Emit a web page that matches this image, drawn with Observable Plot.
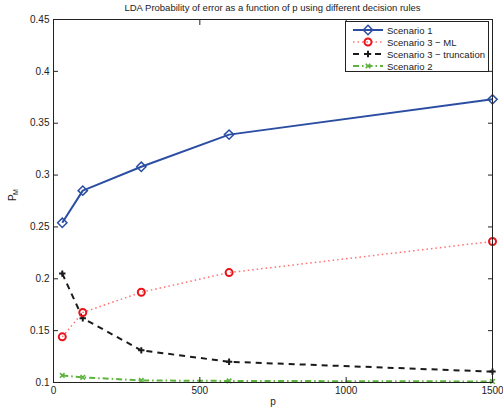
<!DOCTYPE html>
<html><head><meta charset="utf-8">
<script src="https://cdn.jsdelivr.net/npm/d3@7"></script>
<script src="https://cdn.jsdelivr.net/npm/@observablehq/plot@0.6"></script>
<style>
body{margin:0;background:#fff;font-family:"Liberation Sans",Arial,sans-serif;}
#wrap{position:relative;width:503px;height:410px;}
#title{height:14px;font-size:9.5px;text-align:center;color:#222;line-height:14px;padding-top:1px;padding-left:42px;}
#legend{position:absolute;left:345px;top:21px;}
</style></head>
<body><div id="wrap"><div id="title">LDA Probability of error as a function of p using different decision rules</div><div id="chart"></div><svg id="legend" width="145" height="52"></svg></div>
<script>
const pValues = [30, 100, 300, 600, 1500];
const scenario1 = [0.254, 0.285, 0.308, 0.339, 0.373];
const scenario3ML = [0.144, 0.1675, 0.187, 0.206, 0.236];
const scenario3Trunc = [0.205, 0.162, 0.131, 0.120, 0.1105];
const scenario2 = [0.1068, 0.105, 0.102, 0.1015, 0.101];
const xTicks = [0, 500, 1000, 1500];
const yTicks = [0.1, 0.15, 0.2, 0.25, 0.3, 0.35, 0.4, 0.45];

const series = [
  {name: "Scenario 1", values: scenario1, line: "#2b4ea3", dot: "#2b4ea3", symbol: "diamond2", dash: null, lw: 2, r: 4.2, mw: 1.5},
  {name: "Scenario 3 \u2212 ML", values: scenario3ML, line: "#ff7070", dot: "#e8141a", symbol: "circle", dash: "1.5,3", lw: 1.5, r: 3.5, mw: 2},
  {name: "Scenario 3 \u2212 truncation", values: scenario3Trunc, line: "#1a1a1a", dot: "#1a1a1a", symbol: "plus", dash: "6,5", lw: 2, r: 2.2, mw: 2},
  {name: "Scenario 2", values: scenario2, line: "#5db33c", dot: "#5db33c", symbol: "times", dash: "6,3,1.5,3", lw: 2, r: 2.2, mw: 1.6}
];
const drawOrder = [3, 2, 1, 0];
const marks = [];
for (const i of drawOrder) {
  const s = series[i];
  const data = pValues.map((p, k) => ({p, v: s.values[k]}));
  marks.push(Plot.line(data, {x: "p", y: "v", stroke: s.line, strokeWidth: s.lw, strokeDasharray: s.dash, strokeLinecap: "butt"}));
  marks.push(Plot.dot(data, {x: "p", y: "v", stroke: s.dot, symbol: s.symbol, r: s.r, strokeWidth: s.mw, fill: "none"}));
}
marks.push(Plot.frame({stroke: "#222", strokeWidth: 1}));
const fmtY = d => String(+d.toFixed(2));
marks.push(Plot.axisX(xTicks, {anchor: "bottom", tickSize: -5, tickPadding: 9, tickFormat: d => String(d), fontSize: 10, stroke: "#222", color: "#222", label: null}));
marks.push(Plot.axisX(xTicks, {anchor: "top", tickSize: -5, tickFormat: () => "", stroke: "#222", label: null}));
marks.push(Plot.axisY(yTicks, {anchor: "left", tickSize: -5, tickPadding: 9, tickFormat: fmtY, fontSize: 10, stroke: "#222", color: "#222", label: null}));
marks.push(Plot.axisY(yTicks, {anchor: "right", tickSize: -5, tickFormat: () => "", stroke: "#222", label: null}));
marks.push(Plot.text(["p"], {frameAnchor: "bottom", dy: 22, fontSize: 10, fill: "#222"}));
marks.push(Plot.text(["P"], {frameAnchor: "left", dx: -41, dy: 0, fontSize: 10, fill: "#222", rotate: -90}));
marks.push(Plot.text(["M"], {frameAnchor: "left", dx: -38, dy: -6, fontSize: 7, fill: "#222", rotate: -90}));

const chart = Plot.plot({
  width: 503, height: 396,
  marginTop: 4, marginLeft: 53, marginRight: 11, marginBottom: 29,
  style: {fontFamily: "Liberation Sans, Arial, sans-serif", background: "white", overflow: "visible"},
  x: {domain: [0, 1500], axis: null},
  y: {domain: [0.1, 0.45], axis: null},
  marks
});
document.getElementById("chart").appendChild(chart);

// legend
const lg = d3.select("#legend");
lg.append("rect").attr("x", 0.5).attr("y", 0.5).attr("width", 143).attr("height", 50).attr("fill", "white").attr("stroke", "#222");
series.forEach((s, i) => {
  const y = 9 + i * 12;
  lg.append("line").attr("x1", 8).attr("x2", 38).attr("y1", y).attr("y2", y)
    .attr("stroke", s.line).attr("stroke-width", s.lw).attr("stroke-dasharray", s.dash);
  const sym = {diamond2: d3.symbolDiamond2, circle: d3.symbolCircle, plus: d3.symbolPlus, times: d3.symbolTimes}[s.symbol];
  lg.append("path").attr("transform", `translate(23,${y})`).attr("d", d3.symbol(sym, Math.PI * s.r * s.r)())
    .attr("fill", "none").attr("stroke", s.dot).attr("stroke-width", s.mw);
  lg.append("text").attr("x", 42).attr("y", y + 3.5).attr("font-size", 9.5).attr("fill", "#222")
    .attr("font-family", "Liberation Sans, Arial, sans-serif").text(s.name);
});
</script></body></html>
